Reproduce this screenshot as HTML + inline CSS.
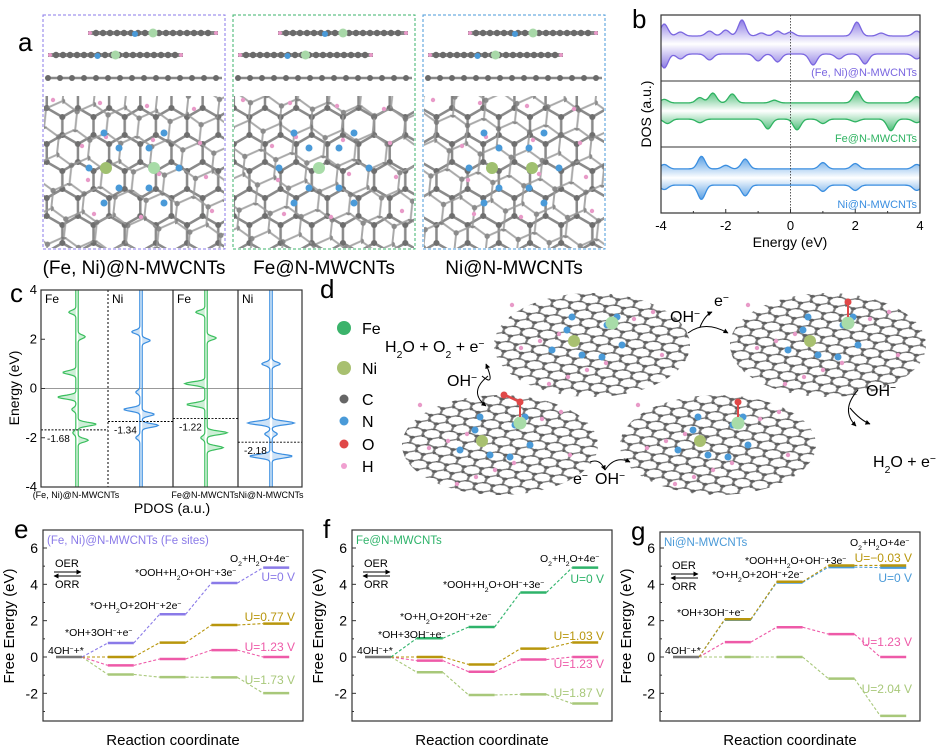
<!DOCTYPE html>
<html><head><meta charset="utf-8">
<style>
html,body{margin:0;padding:0;background:#fff;}
svg{display:block;font-family:"Liberation Sans",Arial,sans-serif;}
</style></head>
<body>
<svg id="fig" width="945" height="750" viewBox="0 0 945 750" xmlns="http://www.w3.org/2000/svg">
<defs>
 <pattern id="hexA" width="17.32" height="30" patternUnits="userSpaceOnUse" patternTransform="scale(1.8)">
  <path d="M8.66,0 L17.32,5 L17.32,15 L8.66,20 L0,15 L0,5 Z M8.66,20 L8.66,30" fill="none" stroke="#8a8a8a" stroke-width="1.4"/>
  <g fill="#6e6e6e"><circle cx="8.66" cy="0" r="1.7"/><circle cx="0" cy="5" r="1.7"/><circle cx="17.32" cy="5" r="1.7"/><circle cx="0" cy="15" r="1.7"/><circle cx="17.32" cy="15" r="1.7"/><circle cx="8.66" cy="20" r="1.7"/><circle cx="8.66" cy="30" r="1.7"/></g>
 </pattern>
 <pattern id="hexB" width="17.32" height="30" patternUnits="userSpaceOnUse" patternTransform="translate(9,14) rotate(6) scale(1.8)">
  <path d="M8.66,0 L17.32,5 L17.32,15 L8.66,20 L0,15 L0,5 Z M8.66,20 L8.66,30" fill="none" stroke="#9a9a9a" stroke-width="1.1"/>
  <g fill="#777"><circle cx="8.66" cy="0" r="1.5"/><circle cx="0" cy="5" r="1.5"/><circle cx="17.32" cy="5" r="1.5"/><circle cx="0" cy="15" r="1.5"/><circle cx="8.66" cy="20" r="1.5"/></g>
 </pattern>
 <pattern id="hexS" width="12" height="20.8" patternUnits="userSpaceOnUse" patternTransform="scale(1.5,0.75) rotate(12)">
  <path d="M6,0 L12,3.46 L12,10.4 L6,13.9 L0,10.4 L0,3.46 Z M6,13.9 L6,20.8" fill="none" stroke="#7a7a7a" stroke-width="1.6"/>
  <g fill="#5e5e5e"><circle cx="6" cy="0" r="1.9"/><circle cx="0" cy="3.46" r="1.9"/><circle cx="12" cy="3.46" r="1.9"/><circle cx="0" cy="10.4" r="1.9"/><circle cx="6" cy="13.9" r="1.9"/></g>
 </pattern>
 <marker id="arr" viewBox="0 0 10 10" refX="9" refY="5" markerWidth="5" markerHeight="5" orient="auto"><path d="M0,0 L10,5 L0,10 Z" fill="#000"/></marker>
</defs>
<g id="panelA"></g>
<g id="panelB"></g>
<g id="panelC"></g>
<g id="panelD"></g>
<g id="panelE"></g>
<g id="panelF"></g>
<g id="panelG"></g>
</svg>
<script>
// ===== Free energy data (eV) for steps 0..4 =====
const steps = ["4OH-+*","*OH","*O","*OOH","O2"];
const eU0   = [0, 0.77, 2.35, 4.07, 4.92];
const eU077 = [0, 0.00, 0.79, 1.76, 1.84];
const eU123 = [0, -0.46, -0.11, 0.38, 0.00];
const eU173 = [0, -0.96, -1.11, -1.12, -1.99];
const fU0   = [0, 1.03, 1.65, 3.55, 4.92];
const fU103 = [0, 0.00, -0.41, 0.46, 0.80];
const fU123 = [0, -0.20, -0.81, -0.14, 0.00];
const fU187 = [0, -0.84, -2.09, -2.06, -2.56];
const gU0   = [0, 2.05, 4.10, 4.95, 4.92];
const gUm003= [0, 2.08, 4.14, 5.04, 5.04];
const gU123 = [0, 0.82, 1.64, 1.26, 0.00];
const gU204 = [0, 0.00, 0.00, -1.19, -3.24];
const yTicks = [6, 4, 2, 0, -2];
// ===== DOS peaks (energy, height) =====
const dosFeNiUp = [[-3.9,12],[-3.4,4],[-2.5,5],[-2.0,6],[-1.5,16],[-0.9,3],[-0.4,5],[0.0,4],[2.05,14],[2.8,3],[3.9,5]];
const dosFeNiDn = [[-3.9,14],[-3.4,5],[-2.5,6],[-1.0,7],[-0.4,8],[0.7,11],[1.5,5],[2.3,10],[3.9,5]];
const dosFeUp = [[-3.9,4],[-2.8,6],[-2.4,11],[-1.8,10],[-0.5,3],[2.05,13],[3.9,7]];
const dosFeDn = [[-3.8,5],[-2.8,4],[-0.7,11],[0.2,12],[1.0,5],[2.0,3],[3.1,13],[3.9,4]];
const dosNiUp = [[-3.9,5],[-2.75,14],[-1.4,11],[-2.0,4],[1.0,7],[2.0,6],[3.9,5]];
const dosNiDn = [[-3.9,5],[-2.75,16],[-1.4,12],[1.0,7],[2.0,6],[3.9,6]];
// PDOS peaks (energy, signed width)
const pdosFe1 = [[3.1,-7],[2.1,7],[0.65,-13],[-0.35,-18],[-0.85,-4],[-1.45,18],[-2.1,10],[-1.8,-3]];
const pdosNi1 = [[2.3,-8],[1.95,8],[-0.15,-4],[-0.85,-16],[-1.05,12],[-1.5,16],[-2.0,-4]];
const pdosFe2 = [[3.1,-9],[2.05,9],[0.2,-20],[-0.65,-18],[-1.8,20],[-2.4,16],[-2.0,-4]];
const pdosNi2 = [[1.0,-8],[1.0,8],[-1.4,-22],[-1.4,22],[-1.85,-5],[-1.85,5],[-2.75,-20],[-2.75,20]];
const dCenters = [-1.68,-1.34,-1.22,-2.18];

const NS="http://www.w3.org/2000/svg";
function mk(tag, attrs, parent, text){
  const el=document.createElementNS(NS,tag);
  for(const k in attrs) el.setAttribute(k,attrs[k]);
  if(text!==undefined) el.textContent=text;
  parent.appendChild(el); return el;
}
function txt(parent,x,y,s,size,name,opts){
  opts=opts||{};
  const t=mk('text',{x:x,y:y,'font-size':size,fill:opts.fill||'#000','text-anchor':opts.anchor||'start'},parent);
  if(opts.transform) t.setAttribute('transform',opts.transform);
  t.innerHTML=s;
  
  
  return t;
}
const sup=s=>'<tspan font-size="65%" baseline-shift="super">'+s+'</tspan>';
const sub=s=>'<tspan font-size="65%" baseline-shift="sub">'+s+'</tspan>';

// ===== Panel A =====
(function(){
  const g=document.getElementById('panelA');
  txt(g,18,51,'a',26,'panel-a-letter');
  const boxes=[[43,'#8a7ae8','(Fe, Ni)@N-MWCNTs',0],[233,'#3bb36b','Fe@N-MWCNTs',1],[423,'#4a9ad8','Ni@N-MWCNTs',2]];
  boxes.forEach((b,i)=>{
    const x=b[0], w=182;
    const sub=mk('g',{},g);
    
    
    const rows=[[x+45,x+175,33],[x+5,x+140,55]];
    rows.forEach(r=>{
      mk('line',{x1:r[0],y1:r[2],x2:r[1],y2:r[2],stroke:'#888','stroke-width':4},sub);
      for(let xx=r[0]+8;xx<r[1]-4;xx+=7) mk('circle',{cx:xx,cy:r[2],r:3.2,fill:'#6a6a6a'},sub);
      mk('circle',{cx:(r[0]+r[1])/2,cy:r[2],r:4.5,fill:'#a8d8a8'},sub);
      mk('circle',{cx:(r[0]+r[1])/2-18,cy:r[2]+1,r:3,fill:'#4a9ad8'},sub);
      mk('circle',{cx:r[0]+2,cy:r[2],r:2,fill:'#e89ac8'},sub);
      mk('circle',{cx:r[1]-2,cy:r[2],r:2,fill:'#e89ac8'},sub);
    });
    mk('line',{x1:x+3,y1:78,x2:x+w-3,y2:78,stroke:'#888','stroke-width':2.5},sub);
    for(let xx=x+5;xx<x+w;xx+=12) mk('circle',{cx:xx,cy:78,r:3,fill:'#6a6a6a'},sub);
    mk('rect',{x:x+1,y:96,width:w-2,height:152,fill:'url(#hexA)'},sub);
    mk('rect',{x:x+1,y:96,width:w-2,height:152,fill:'url(#hexB)',opacity:0.85},sub);
    for(let k=0;k<14;k++){mk('circle',{cx:x+10+((k*53)%165),cy:100+((k*37)%145),r:2.2,fill:'#e89ac8'},sub);}
    const cx=x+w/2, cy=168;
    [[-30,-35],[30,-35],[-45,0],[45,0],[-30,35],[30,35],[-15,-20],[15,20],[-15,20],[15,-20]].forEach(p=>mk('circle',{cx:cx+p[0],cy:cy+p[1],r:3.5,fill:'#4a9ad8'},sub));
    if(i==0){mk('circle',{cx:cx-28,cy:cy,r:6,fill:'#a0c070'},sub);mk('circle',{cx:cx+20,cy:cy,r:6,fill:'#a8dca8'},sub);}
    if(i==1){mk('circle',{cx:cx-5,cy:cy,r:6,fill:'#a8dca8'},sub);}
    if(i==2){mk('circle',{cx:cx-22,cy:cy,r:6,fill:'#a0c070'},sub);mk('circle',{cx:cx+18,cy:cy,r:6,fill:'#a0c070'},sub);}
    mk('rect',{x:x,y:15,width:w,height:234,fill:'none',stroke:b[1],'stroke-width':1,'stroke-dasharray':'3,2'},sub);
    txt(g,x+w/2,274,b[2],19,'structure-label-'+(i+1),{anchor:'middle'});
  });
})();

// ===== Panel B =====
(function(){
  const g=document.getElementById('panelB');
  txt(g,632,28,'b',26,'panel-b-letter');
  const X0=661,X1=920,Y0=15,Y1=213;
  const sx=e=>X0+(e+4)/8*(X1-X0);
  const subs=[[15,81,dosFeNiUp,dosFeNiDn,'#7a66e0','(Fe, Ni)@N-MWCNTs',1.0],[81,147,dosFeUp,dosFeDn,'#2fb362','Fe@N-MWCNTs',0.9],[147,213,dosNiUp,dosNiDn,'#3a8ee0','Ni@N-MWCNTs',0.9]];
  const dfs=mk('defs',{},g);
  subs.forEach((s,k)=>{
    const mid=(s[0]+s[1])/2-3;
    const grad=mk('linearGradient',{id:'gb'+k,x1:0,y1:0,x2:0,y2:1},dfs);
    mk('stop',{offset:'0','stop-color':s[4],'stop-opacity':0.85},grad);
    mk('stop',{offset:'0.5','stop-color':s[4],'stop-opacity':0.0},grad);
    mk('stop',{offset:'1','stop-color':s[4],'stop-opacity':0.85},grad);
    function f(arr,e){let v=9;arr.forEach(p=>{v+=p[1]*Math.exp(-Math.pow((e-p[0])/0.16,2));});return Math.min(v*s[6],30);}
    let up='',dn='',N=200;
    for(let i=0;i<=N;i++){const e=-4+8*i/N;up+=(i?'L':'M')+sx(e).toFixed(1)+','+(mid-f(s[2],e)).toFixed(1);}
    for(let i=N;i>=0;i--){const e=-4+8*i/N;dn+='L'+sx(e).toFixed(1)+','+(mid+f(s[3],e)).toFixed(1);}
    const area=mk('path',{d:up+dn+'Z',fill:'url(#gb'+k+')'},g);
    
    
    const l1=mk('path',{d:up,fill:'none',stroke:s[4],'stroke-width':1.3},g);
    
    
    const l2=mk('path',{d:'M'+dn.slice(1),fill:'none',stroke:s[4],'stroke-width':1.3},g);
    
    
    txt(g,917,s[1]-5,s[5],11,'dos-label-'+(k+1),{anchor:'end',fill:s[4]});
    if(k>0) mk('line',{x1:X0,y1:s[0],x2:X1,y2:s[0],stroke:'#333','stroke-width':1},g);
  });
  mk('line',{x1:sx(0),y1:Y0,x2:sx(0),y2:Y1,stroke:'#333','stroke-width':0.8,'stroke-dasharray':'1.5,1.5'},g);
  mk('rect',{x:X0,y:Y0,width:X1-X0,height:Y1-Y0,fill:'none',stroke:'#333','stroke-width':1.2},g);
  [-4,-2,0,2,4].forEach(t=>{mk('line',{x1:sx(t),y1:Y1,x2:sx(t),y2:Y1-4,stroke:'#333'},g);txt(g,sx(t),230,String(t),13,'b-xtick-'+t,{anchor:'middle'});});
  [-3,-1,1,3].forEach(t=>mk('line',{x1:sx(t),y1:Y1,x2:sx(t),y2:Y1-2,stroke:'#333'},g));
  txt(g,790,247,'Energy (eV)',14,'b-x-title',{anchor:'middle'});
  txt(g,0,0,'DOS (a.u.)',14,'b-y-title',{anchor:'middle',transform:'translate(651,114) rotate(-90)'});
})();

// ===== Panel C =====
(function(){
  const g=document.getElementById('panelC');
  txt(g,10,302,'c',26,'panel-c-letter');
  const X0=41,X1=302,Y0=290,Y1=487;
  const sy=e=>Y0+(4-e)/8*(Y1-Y0);
  const cols=[[41,108,77,pdosFe1,'#3bbf5e','Fe'],[108,173,141,pdosNi1,'#3a8ee0','Ni'],[173,238,206,pdosFe2,'#3bbf5e','Fe'],[238,302,271,pdosNi2,'#3a8ee0','Ni']];
  mk('line',{x1:X0,y1:sy(0),x2:X1,y2:sy(0),stroke:'#777','stroke-width':0.8},g);
  cols.forEach((c,k)=>{
    [[-1,-1.2],[1,1.2]].forEach((side,si)=>{
      const base=c[2]+side[1];
      function f(e){let v=0;c[3].forEach(p=>{if(Math.sign(p[1])===side[0]) v+=p[1]*Math.exp(-Math.pow((e-p[0])/0.1,2));});return v;}
      let d='',N=240;
      for(let i=0;i<=N;i++){const e=4-8*i/N;d+=(i?'L':'M')+(base+f(e)).toFixed(1)+','+sy(e).toFixed(1);}
      const fill=mk('path',{d:d+'L'+base+','+Y1+'L'+base+','+Y0+'Z',fill:c[4],opacity:0.25},g);
      
      
      const ln=mk('path',{d:d,fill:'none',stroke:c[4],'stroke-width':1.2},g);
      
      
    });
    txt(g,c[0]+4,303,c[5],12,'pdos-element-'+(k+1));
    const yc=sy(dCenters[k]);
    mk('line',{x1:c[0],y1:yc,x2:c[1],y2:yc,stroke:'#000','stroke-width':0.9,'stroke-dasharray':'2,1.5'},g);
    txt(g,c[0]+6,yc+12,dCenters[k].toFixed(2),10,'d-band-center-'+(k+1));
    if(k>0) mk('line',{x1:c[0],y1:Y0,x2:c[0],y2:Y1,stroke:'#000','stroke-width':1,'stroke-dasharray':k==1?'2,2':'none'},g);
  });
  mk('rect',{x:X0,y:Y0,width:X1-X0,height:Y1-Y0,fill:'none',stroke:'#333','stroke-width':1.2},g);
  [4,2,0,-2,-4].forEach(t=>{mk('line',{x1:X0,y1:sy(t),x2:X0+4,y2:sy(t),stroke:'#333'},g);txt(g,X0-4,sy(t)+4,String(t),13,'c-ytick-'+t,{anchor:'end'});});
  txt(g,0,0,'Energy (eV)',14,'c-y-title',{anchor:'middle',transform:'translate(19,388) rotate(-90)'});
  txt(g,76,498,'(Fe, Ni)@N-MWCNTs',9,'c-xlabel-1',{anchor:'middle'});
  txt(g,205,498,'Fe@N-MWCNTs',9,'c-xlabel-2',{anchor:'middle'});
  txt(g,271,498,'Ni@N-MWCNTs',9,'c-xlabel-3',{anchor:'middle'});
  txt(g,172,513,'PDOS (a.u.)',14,'c-x-title',{anchor:'middle'});
})();

// ===== Panel D =====
(function(){
  const g=document.getElementById('panelD');
  txt(g,320,298,'d',26,'panel-d-letter');
  const leg=[['#3bb36b',7,'Fe',328],['#a8c070',7,'Ni',368],['#666',4.5,'C',399],['#4a9ad8',4.5,'N',421],['#e04848',4.5,'O',444],['#f0a0d0',3,'H',466]];
  leg.forEach((l,i)=>{mk('circle',{cx:344,cy:l[3],r:l[1],fill:l[0]},g);txt(g,362,l[3]+6,l[2],16,'legend-'+l[2]);});
  const sheets=[[592,345,98,52,false,'sheet-1'],[828,345,98,52,true,'sheet-2'],[500,445,98,50,'ooh','sheet-3'],[718,445,98,50,true,'sheet-4']];
  sheets.forEach(s=>{
    const sg=mk('g',{},g);
    
    
    mk('ellipse',{cx:s[0],cy:s[1],rx:s[2],ry:s[3],fill:'url(#hexS)'},sg);
    for(let k=0;k<12;k++){mk('circle',{cx:s[0]-80+((k*47)%160),cy:s[1]-40+((k*29)%80),r:2.2,fill:'#e89ac8'},sg);}
    [[-25,-15],[15,-20],[-40,5],[30,0],[-10,10],[10,12],[-20,-28],[25,-28]].forEach(p=>mk('circle',{cx:s[0]+p[0],cy:s[1]+p[1],r:3.5,fill:'#4a9ad8'},sg));
    mk('circle',{cx:s[0]-18,cy:s[1]-4,r:6,fill:'#a8c070'},sg);
    mk('circle',{cx:s[0]+20,cy:s[1]-22,r:6.5,fill:'#a8dca8'},sg);
    if(s[4]){mk('line',{x1:s[0]+20,y1:s[1]-28,x2:s[0]+20,y2:s[1]-42,stroke:'#e04848','stroke-width':2},sg);mk('circle',{cx:s[0]+20,cy:s[1]-43,r:3.5,fill:'#e04848'},sg);}
    if(s[4]==='ooh'){mk('line',{x1:s[0]+20,y1:s[1]-43,x2:s[0]+5,y2:s[1]-50,stroke:'#e04848','stroke-width':2.5},sg);mk('circle',{cx:s[0]+4,cy:s[1]-50,r:3.5,fill:'#e04848'},sg);}
  });
  txt(g,385,352,'H'+sub('2')+'O + O'+sub('2')+' + e'+sup('−'),16,'reactant-1');
  txt(g,447,386,'OH'+sup('−'),16,'oh-label-1');
  txt(g,670,322,'OH'+sup('−'),16,'oh-label-2');
  txt(g,714,306,'e'+sup('−'),16,'e-label-2');
  txt(g,866,396,'OH'+sup('−'),16,'oh-label-3');
  txt(g,873,467,'H'+sub('2')+'O + e'+sup('−'),16,'reactant-2');
  txt(g,573,484,'e'+sup('−'),16,'e-label-4');
  txt(g,595,484,'OH'+sup('−'),16,'oh-label-4');
  [['M488,376 Q468,392 486,406'],['M482,376 Q496,388 486,364'],['M688,333 Q705,320 728,333'],['M700,327 Q705,315 712,312'],['M858,390 Q840,410 856,426'],['M850,408 Q860,420 870,424'],['M605,470 Q615,455 630,462'],['M590,462 Q600,458 605,470']].forEach((a,i)=>{
    const p=mk('path',{d:a[0],fill:'none',stroke:'#000','stroke-width':1,'marker-end':'url(#arr)'},g);
    
    
  });
})();

// ===== Energy diagrams =====
function energyPanel(gid, letter, X0, Y0, series, colors, title, titleColor, labels, ulabels){
  const g=document.getElementById(gid);
  const X1=X0+260, Y1=721, zeroY=657, perUnit=(657-548)/6;
  const sy=v=>zeroY-v*perUnit;
  const lx=i=>X0+13+i*51.8;
  const LW=26;
  txt(g,X0-29,Y0+8,letter,26,'panel-'+letter+'-letter');
  mk('rect',{x:X0,y:Y0,width:X1-X0,height:Y1-Y0,fill:'none',stroke:'#333','stroke-width':1.2},g);
  yTicks.forEach(t=>{mk('line',{x1:X0,y1:sy(t),x2:X0+4,y2:sy(t),stroke:'#333'},g);txt(g,X0-5,sy(t)+5,String(t),14,letter+'-ytick-'+t,{anchor:'end'});});
  [5,3,1,-1,-3].forEach(t=>mk('line',{x1:X0,y1:sy(t),x2:X0+2,y2:sy(t),stroke:'#333'},g));
  txt(g,0,0,'Free Energy (eV)',15,letter+'-y-title',{anchor:'middle',transform:'translate('+(X0-29)+',626) rotate(-90)'});
  txt(g,X0+130,745,'Reaction coordinate',15,letter+'-x-title',{anchor:'middle'});
  txt(g,X0+4,Y0+14,title,11.5,letter+'-title',{fill:titleColor});
  txt(g,X0+12,Y0+37,'OER',11,letter+'-oer');
  mk('line',{x1:X0+11,y1:Y0+42,x2:X0+38,y2:Y0+42,stroke:'#000','stroke-width':1,'marker-end':'url(#arr)'},g);
  mk('line',{x1:X0+38,y1:Y0+46,x2:X0+11,y2:Y0+46,stroke:'#000','stroke-width':1,'marker-end':'url(#arr)'},g);
  txt(g,X0+12,Y0+58,'ORR',11,letter+'-orr');
  mk('line',{x1:lx(0),y1:sy(0),x2:lx(0)+LW,y2:sy(0),stroke:'#777','stroke-width':2.5},g);
  series.forEach((arr,si)=>{
    const col=colors[si];
    for(let i=1;i<arr.length;i++){
      const c=mk('line',{x1:lx(i-1)+LW,y1:sy(arr[i-1]),x2:lx(i),y2:sy(arr[i]),stroke:col,'stroke-width':1.1,'stroke-dasharray':'3,2'},g);
      
      
      const l=mk('line',{x1:lx(i),y1:sy(arr[i]),x2:lx(i)+LW,y2:sy(arr[i]),stroke:col,'stroke-width':2.5},g);
      
      
    }
  });
  labels.forEach((l,i)=>txt(g,l[0],l[1],l[2],10.5,letter+'-step-label-'+i));
  ulabels.forEach((u,i)=>txt(g,X1-8,u[0],u[1],12,letter+'-u-label-'+i,{anchor:'end',fill:u[2]}));
}
const L_OH='*OH+3OH'+sup('−')+'+e'+sup('−');
const L_O='*O+H'+sub('2')+'O+2OH'+sup('−')+'+2e'+sup('−');
const L_OOH='*OOH+H'+sub('2')+'O+OH'+sup('−')+'+3e'+sup('−');
const L_O2='O'+sub('2')+'+H'+sub('2')+'O+4e'+sup('−');
const L_4='4OH'+sup('−')+'+*';
const PUR='#8a7ae8',OLV='#b8960c',PNK='#ee5aa8',LGR='#a8c87a',GRN='#2eb36a',BLU='#4a9ad8';
energyPanel('panelE','e',43,530,[eU173,eU123,eU077,eU0],[LGR,PNK,OLV,PUR],'(Fe, Ni)@N-MWCNTs (Fe sites)',PUR,
 [[48,654,L_4],[65,636,L_OH],[90,609,L_O],[135,576,L_OOH],[230,562,L_O2]],
 [[581,'U=0 V',PUR],[621,'U=0.77 V',OLV],[651,'U=1.23 V',PNK],[684,'U=1.73 V',LGR]]);
energyPanel('panelF','f',352,530,[fU187,fU123,fU103,fU0],[LGR,PNK,OLV,GRN],'Fe@N-MWCNTs',GRN,
 [[357,654,L_4],[378,638,L_OH],[400,620,L_O],[443,588,L_OOH],[540,562,L_O2]],
 [[583,'U=0 V',GRN],[640,'U=1.03 V',OLV],[668,'U=1.23 V',PNK],[697,'U=1.87 V',LGR]]);
energyPanel('panelG','g',660,532,[gU204,gU123,gU0,gUm003],[LGR,PNK,BLU,OLV],'Ni@N-MWCNTs',BLU,
 [[665,654,L_4],[677,616,L_OH],[712,578,L_O],[745,564,L_OOH],[850,546,L_O2]],
 [[562,'U=−0.03 V',OLV],[582,'U=0 V',BLU],[646,'U=1.23 V',PNK],[693,'U=2.04 V',LGR]]);
</script>
</body></html>
